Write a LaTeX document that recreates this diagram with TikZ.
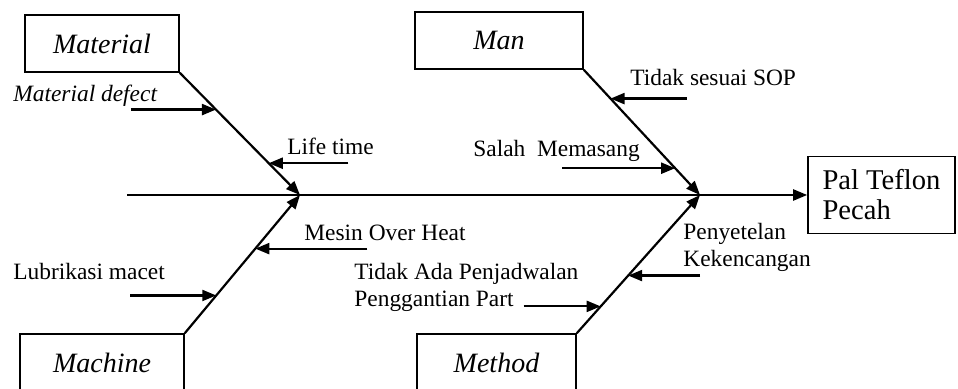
\documentclass[tikz,border=0pt]{standalone}
\usepackage{fontspec}
\setmainfont{Liberation Serif}
\usetikzlibrary{arrows.meta, calc}

\begin{document}
\begin{tikzpicture}[
  x=0.5pt, y=-0.5pt,
  cat/.style={draw, line width=0.8pt, minimum height=28.5pt, inner sep=0pt, font=\fontsize{14}{16}\selectfont\itshape},
  effect/.style={draw, line width=0.8pt, minimum width=73.5pt, minimum height=38.5pt, align=left, inner sep=0pt, font=\fontsize{14.3}{15}\selectfont},
  cause/.style={anchor=base west, inner sep=0pt, align=left, font=\fontsize{11.7}{13.8}\selectfont},
  bone/.style={line width=1.1pt, -{Triangle[length=7pt, width=5.5pt]}}
]
\useasboundingbox (0,0) rectangle (958,389);
\clip (0,0) rectangle (958,389);

% Categories and effect
\node[cat, minimum width=77pt] (mat) at (102,43.5) {Material};
\node[cat, minimum width=84pt] (man) at (499,40.5) {Man};
\node[cat, minimum width=82pt] (mach) at (102,362.5) {Machine};
\node[cat, minimum width=79.5pt] (meth) at (496.5,362.5) {Method};
\node[effect] (pal) at (881.5,195) {Pal Teflon\\Pecah};

% Spine and main bones
\coordinate (tail) at (127,195);
\coordinate (jL) at (300,195);
\coordinate (jR) at (700,195);
\draw[bone] (tail) -- (pal.west);
\draw[bone] (mat.south east) -- (jL);
\draw[bone] (mach.north east) -- (jL);
\draw[bone] (man.south east) -- (jR);
\draw[bone] (meth.north east) -- (jR);

% Points on the bones
\coordinate (md) at ($(mat.south east)!0.301!(jL)$);
\coordinate (lt) at ($(mat.south east)!0.740!(jL)$);
\coordinate (oh) at ($(mach.north east)!0.612!(jL)$);
\coordinate (lm) at ($(mach.north east)!0.273!(jL)$);
\coordinate (sp) at ($(man.south east)!0.230!(jR)$);
\coordinate (sm) at ($(man.south east)!0.786!(jR)$);
\coordinate (kk) at ($(meth.north east)!0.417!(jR)$);
\coordinate (pp) at ($(meth.north east)!0.194!(jR)$);

% Causes
\node[cause, font=\fontsize{11.7}{13.8}\selectfont\itshape] (defect) at (13,102) {Material defect};
\node[cause] (lifetime) at (287,155) {Life time};
\node[cause] (overheat) at (304,241) {Mesin Over Heat};
\node[cause] (lubri) at (13,280) {Lubrikasi macet};
\node[cause] (sop) at (630,86) {Tidak sesuai SOP};
\node[cause] (salah) at (473,157) {Salah\ \ Memasang};
\node[cause] (setel) at (683,267) {Penyetelan\\Kekencangan};
\node[cause] (jadwal) at (354,307) {Tidak Ada Penjadwalan\\Penggantian Part};

% Cause arrows
\draw[bone] ($(md)+(-85,0)$) -- (md);
\draw[bone] ($(lt)+(79.5,0)$) -- (lt);
\draw[bone] ($(oh)+(112,0)$) -- (oh);
\draw[bone] ($(lm)+(-86,0)$) -- (lm);
\draw[bone] ($(sp)+(76,0)$) -- (sp);
\draw[bone] ($(sm)+(-113,0)$) -- (sm);
\draw[bone] ($(kk)+(72,0)$) -- (kk);
\draw[bone] ($(pp)+(-77,0)$) -- (pp);

\end{tikzpicture}
\end{document}
